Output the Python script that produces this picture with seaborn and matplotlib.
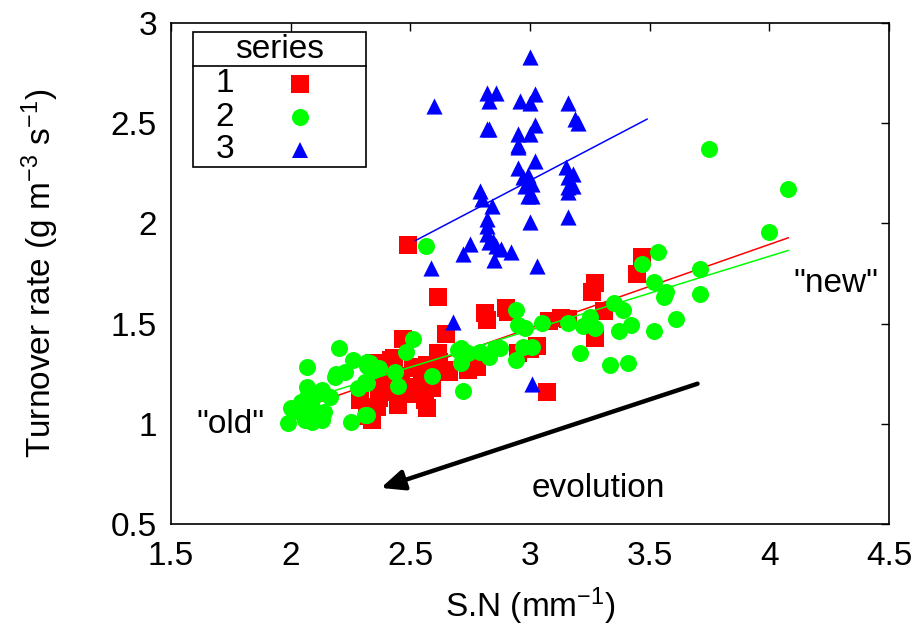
import numpy as np
import pandas as pd
import matplotlib
matplotlib.use("Agg")
import matplotlib.pyplot as plt
import seaborn as sns
from matplotlib.patches import Rectangle
from matplotlib.lines import Line2D
from matplotlib.ticker import FuncFormatter

# ---------------- data ----------------
series_names = ["1", "2", "3"]
series_colors = ["#ff0000", "#00ff00", "#0000ff"]
series_markers = ["s", "o", "^"]

s1_x = [2.49, 2.615, 3.47, 3.445, 3.27, 3.26, 3.31, 3.08, 3.16, 3.13, 2.90, 2.91,
        3.27, 3.03, 2.95, 3.00, 3.07, 2.81, 2.82, 2.65, 2.47, 2.615, 2.42, 2.43,
        2.53, 2.74, 2.78, 2.66, 2.78, 2.74, 2.48, 2.55, 2.40, 2.35, 2.51, 2.57,
        2.65, 2.44, 2.59, 2.37, 2.45, 2.57, 2.36, 2.34, 2.29, 2.32, 2.38, 2.46,
        2.52, 2.41, 2.62, 2.56]
s1_y = [1.89, 1.635, 1.83, 1.75, 1.705, 1.66, 1.565, 1.515, 1.525, 1.53, 1.58, 1.56,
        1.43, 1.39, 1.355, 1.375, 1.16, 1.555, 1.52, 1.45, 1.425, 1.355, 1.32, 1.33,
        1.285, 1.295, 1.305, 1.26, 1.285, 1.27, 1.185, 1.205, 1.16, 1.305, 1.28, 1.295,
        1.27, 1.185, 1.18, 1.13, 1.095, 1.08, 1.085, 1.02, 1.12, 1.04, 1.22, 1.24,
        1.15, 1.26, 1.31, 1.12]

s2_x = [3.75, 4.08, 4.00, 3.535, 3.47, 3.71, 3.52, 3.57, 3.56, 3.71, 3.35, 3.39,
        3.61, 3.42, 3.37, 3.52, 3.335, 3.41, 2.94, 2.95, 2.98, 3.05, 3.16, 3.22,
        3.25, 3.27, 2.875, 2.97, 3.01, 2.94, 3.21, 2.565, 2.51, 2.48, 2.71, 2.74,
        2.79, 2.855, 2.83, 2.71, 2.435, 2.37, 2.45, 2.59, 2.72, 2.70, 2.33, 2.35,
        2.32, 2.20, 2.07, 2.26, 2.32, 2.225, 2.185, 2.07, 2.13, 2.31, 2.28, 2.165,
        2.00, 2.045, 2.09, 2.14, 1.99, 2.06, 2.09, 2.13, 2.25, 2.31, 2.07, 2.32,
        2.19, 2.32, 2.11, 2.04]
s2_y = [2.37, 2.17, 1.955, 1.855, 1.795, 1.77, 1.71, 1.66, 1.635, 1.65, 1.605, 1.57,
        1.525, 1.495, 1.465, 1.465, 1.295, 1.305, 1.57, 1.495, 1.48, 1.505, 1.505, 1.49,
        1.535, 1.48, 1.38, 1.385, 1.385, 1.32, 1.355, 1.885, 1.425, 1.36, 1.38, 1.355,
        1.36, 1.38, 1.335, 1.305, 1.26, 1.28, 1.19, 1.24, 1.165, 1.37, 1.305, 1.27,
        1.045, 1.38, 1.285, 1.32, 1.31, 1.26, 1.235, 1.185, 1.17, 1.21, 1.18, 1.135,
        1.08, 1.11, 1.085, 1.06, 1.005, 1.02, 1.01, 1.02, 1.01, 1.045, 1.135, 1.29,
        1.25, 1.205, 1.15, 1.06]

s3_x = [3.00, 2.60, 2.82, 2.86, 2.83, 2.96, 3.02, 3.00, 3.16, 3.19, 3.20, 2.82,
        2.83, 2.95, 3.02, 3.00, 2.95, 2.95, 3.02, 2.95, 3.15, 2.99, 2.97, 2.99,
        3.01, 3.18, 3.16, 3.16, 3.18, 3.16, 2.98, 2.99, 3.01, 2.79, 2.80, 2.84,
        3.00, 3.16, 2.82, 2.82, 2.82, 2.845, 2.83, 2.86, 2.88, 2.75, 2.72, 2.92,
        2.85, 3.03, 2.585, 2.68, 3.01]
s3_y = [2.83, 2.585, 2.65, 2.65, 2.61, 2.61, 2.645, 2.60, 2.60, 2.52, 2.50, 2.47,
        2.47, 2.445, 2.49, 2.445, 2.39, 2.38, 2.31, 2.275, 2.28, 2.24, 2.23, 2.21,
        2.195, 2.245, 2.23, 2.18, 2.185, 2.155, 2.185, 2.135, 2.135, 2.16, 2.12, 2.085,
        2.005, 2.03, 2.02, 1.985, 1.945, 1.91, 1.905, 1.885, 1.87, 1.895, 1.845, 1.855,
        1.815, 1.785, 1.775, 1.51, 1.20]

# linear fits (slope, intercept) and the x range they are drawn over
fit_slope = [0.418, 0.369, 0.626]
fit_intercept = [0.223, 0.360, 0.336]
fit_x_start = [2.00, 2.00, 2.52]
fit_x_end = [4.08, 4.08, 3.49]

x_ticks = [1.5, 2.0, 2.5, 3.0, 3.5, 4.0, 4.5]
y_ticks = [0.5, 1.0, 1.5, 2.0, 2.5, 3.0]

x_label = "S.N (mm$^{-1}$)"
y_label = "Turnover rate (g m$^{-3}$ s$^{-1}$)"
legend_title = "series"

ann_old = ('"old"', 1.749, 0.995)
ann_new = ('"new"', 4.276, 1.70)
ann_evo = ("evolution", 3.284, 0.675)
arrow_from = (3.70, 1.20)
arrow_to = (2.377, 0.68)

# ---------------- styling ----------------
sns.set_theme(style="white")
plt.rcParams["font.family"] = ["Liberation Sans", "DejaVu Sans"]
plt.rcParams["mathtext.fontset"] = "custom"
plt.rcParams["mathtext.rm"] = "Liberation Sans"
plt.rcParams["mathtext.it"] = "Liberation Sans:italic"
plt.rcParams["mathtext.bf"] = "Liberation Sans:bold"
plt.rcParams["text.color"] = "black"
plt.rcParams["axes.labelcolor"] = "black"

FS = 24

df = pd.concat([
    pd.DataFrame({"x": s1_x, "y": s1_y, "series": series_names[0]}),
    pd.DataFrame({"x": s2_x, "y": s2_y, "series": series_names[1]}),
    pd.DataFrame({"x": s3_x, "y": s3_y, "series": series_names[2]}),
], ignore_index=True)

fig = plt.figure(figsize=(9.17, 6.32), dpi=100)
ax = fig.add_axes([171 / 917, 1 - 524 / 632, 718 / 917, 501 / 632])

marker_sizes = [150, 150, 135]
point_z = [2, 4, 5]
line_z = [3, 3, 6]

for i, name in enumerate(series_names):
    sub = df[df["series"] == name]
    sns.scatterplot(data=sub, x="x", y="y", ax=ax, marker=series_markers[i],
                    color=series_colors[i], s=marker_sizes[i], linewidth=0,
                    zorder=point_z[i], legend=False)
    fx = np.array([fit_x_start[i], fit_x_end[i]])
    fy = fit_slope[i] * fx + fit_intercept[i]
    ax.plot(fx, fy, color=series_colors[i], lw=1.1, zorder=line_z[i])

ax.set_xlim(x_ticks[0], x_ticks[-1])
ax.set_ylim(y_ticks[0], y_ticks[-1])
ax.set_xticks(x_ticks)
ax.set_yticks(y_ticks)
fmt = FuncFormatter(lambda v, p: "%g" % v)
ax.xaxis.set_major_formatter(fmt)
ax.yaxis.set_major_formatter(fmt)
ax.tick_params(direction="in", length=6, width=1, top=True, right=True,
               labelsize=FS, colors="black")
ax.tick_params(axis="x", pad=12)
ax.tick_params(axis="y", pad=10)
for sp in ax.spines.values():
    sp.set_color("black")
    sp.set_linewidth(1.2)
    sp.set_visible(True)

ax.set_xlabel(x_label, fontsize=FS, labelpad=10, color="black")
ax.set_ylabel(y_label, fontsize=FS, labelpad=36, color="black")

# annotations
for txt, tx, ty in (ann_old, ann_new, ann_evo):
    ax.text(tx, ty, txt, fontsize=FS, ha="center", va="center", color="black")
ax.annotate("", xy=arrow_to, xytext=arrow_from,
            arrowprops=dict(arrowstyle="-|>,head_length=0.5,head_width=0.22",
                            lw=3.2, color="black",
                            mutation_scale=28, shrinkA=0, shrinkB=0))

# legend box in gnuplot style
lx0, lx1 = (193 - 171) / 718, (366 - 171) / 718
ly_top, ly_bot = 1 - (32 - 23) / 501, 1 - (167 - 23) / 501
ax.add_patch(Rectangle((lx0, ly_bot), lx1 - lx0, ly_top - ly_bot,
                       transform=ax.transAxes, facecolor="white",
                       edgecolor="black", lw=1.2, zorder=10))
sep_y = 1 - (66 - 23) / 501
ax.add_line(Line2D([lx0, lx1], [sep_y, sep_y], transform=ax.transAxes,
                   color="black", lw=1.2, zorder=11))
ax.text((280 - 171) / 718, 1 - (49 - 23) / 501, legend_title, fontsize=FS,
        ha="center", va="center", transform=ax.transAxes, zorder=12)
row_px = [84, 117, 150]
for i, name in enumerate(series_names):
    yy = 1 - (row_px[i] - 23) / 501
    ax.text((225 - 171) / 718, yy, name, fontsize=FS, ha="center",
            va="center", transform=ax.transAxes, zorder=12)
    ax.add_line(Line2D([(300 - 171) / 718], [yy], transform=ax.transAxes,
                       marker=series_markers[i], color=series_colors[i],
                       markersize=np.sqrt(marker_sizes[i]), markeredgewidth=0,
                       linestyle="none", zorder=12))

fig.savefig("out.png", dpi=100, facecolor="white")
